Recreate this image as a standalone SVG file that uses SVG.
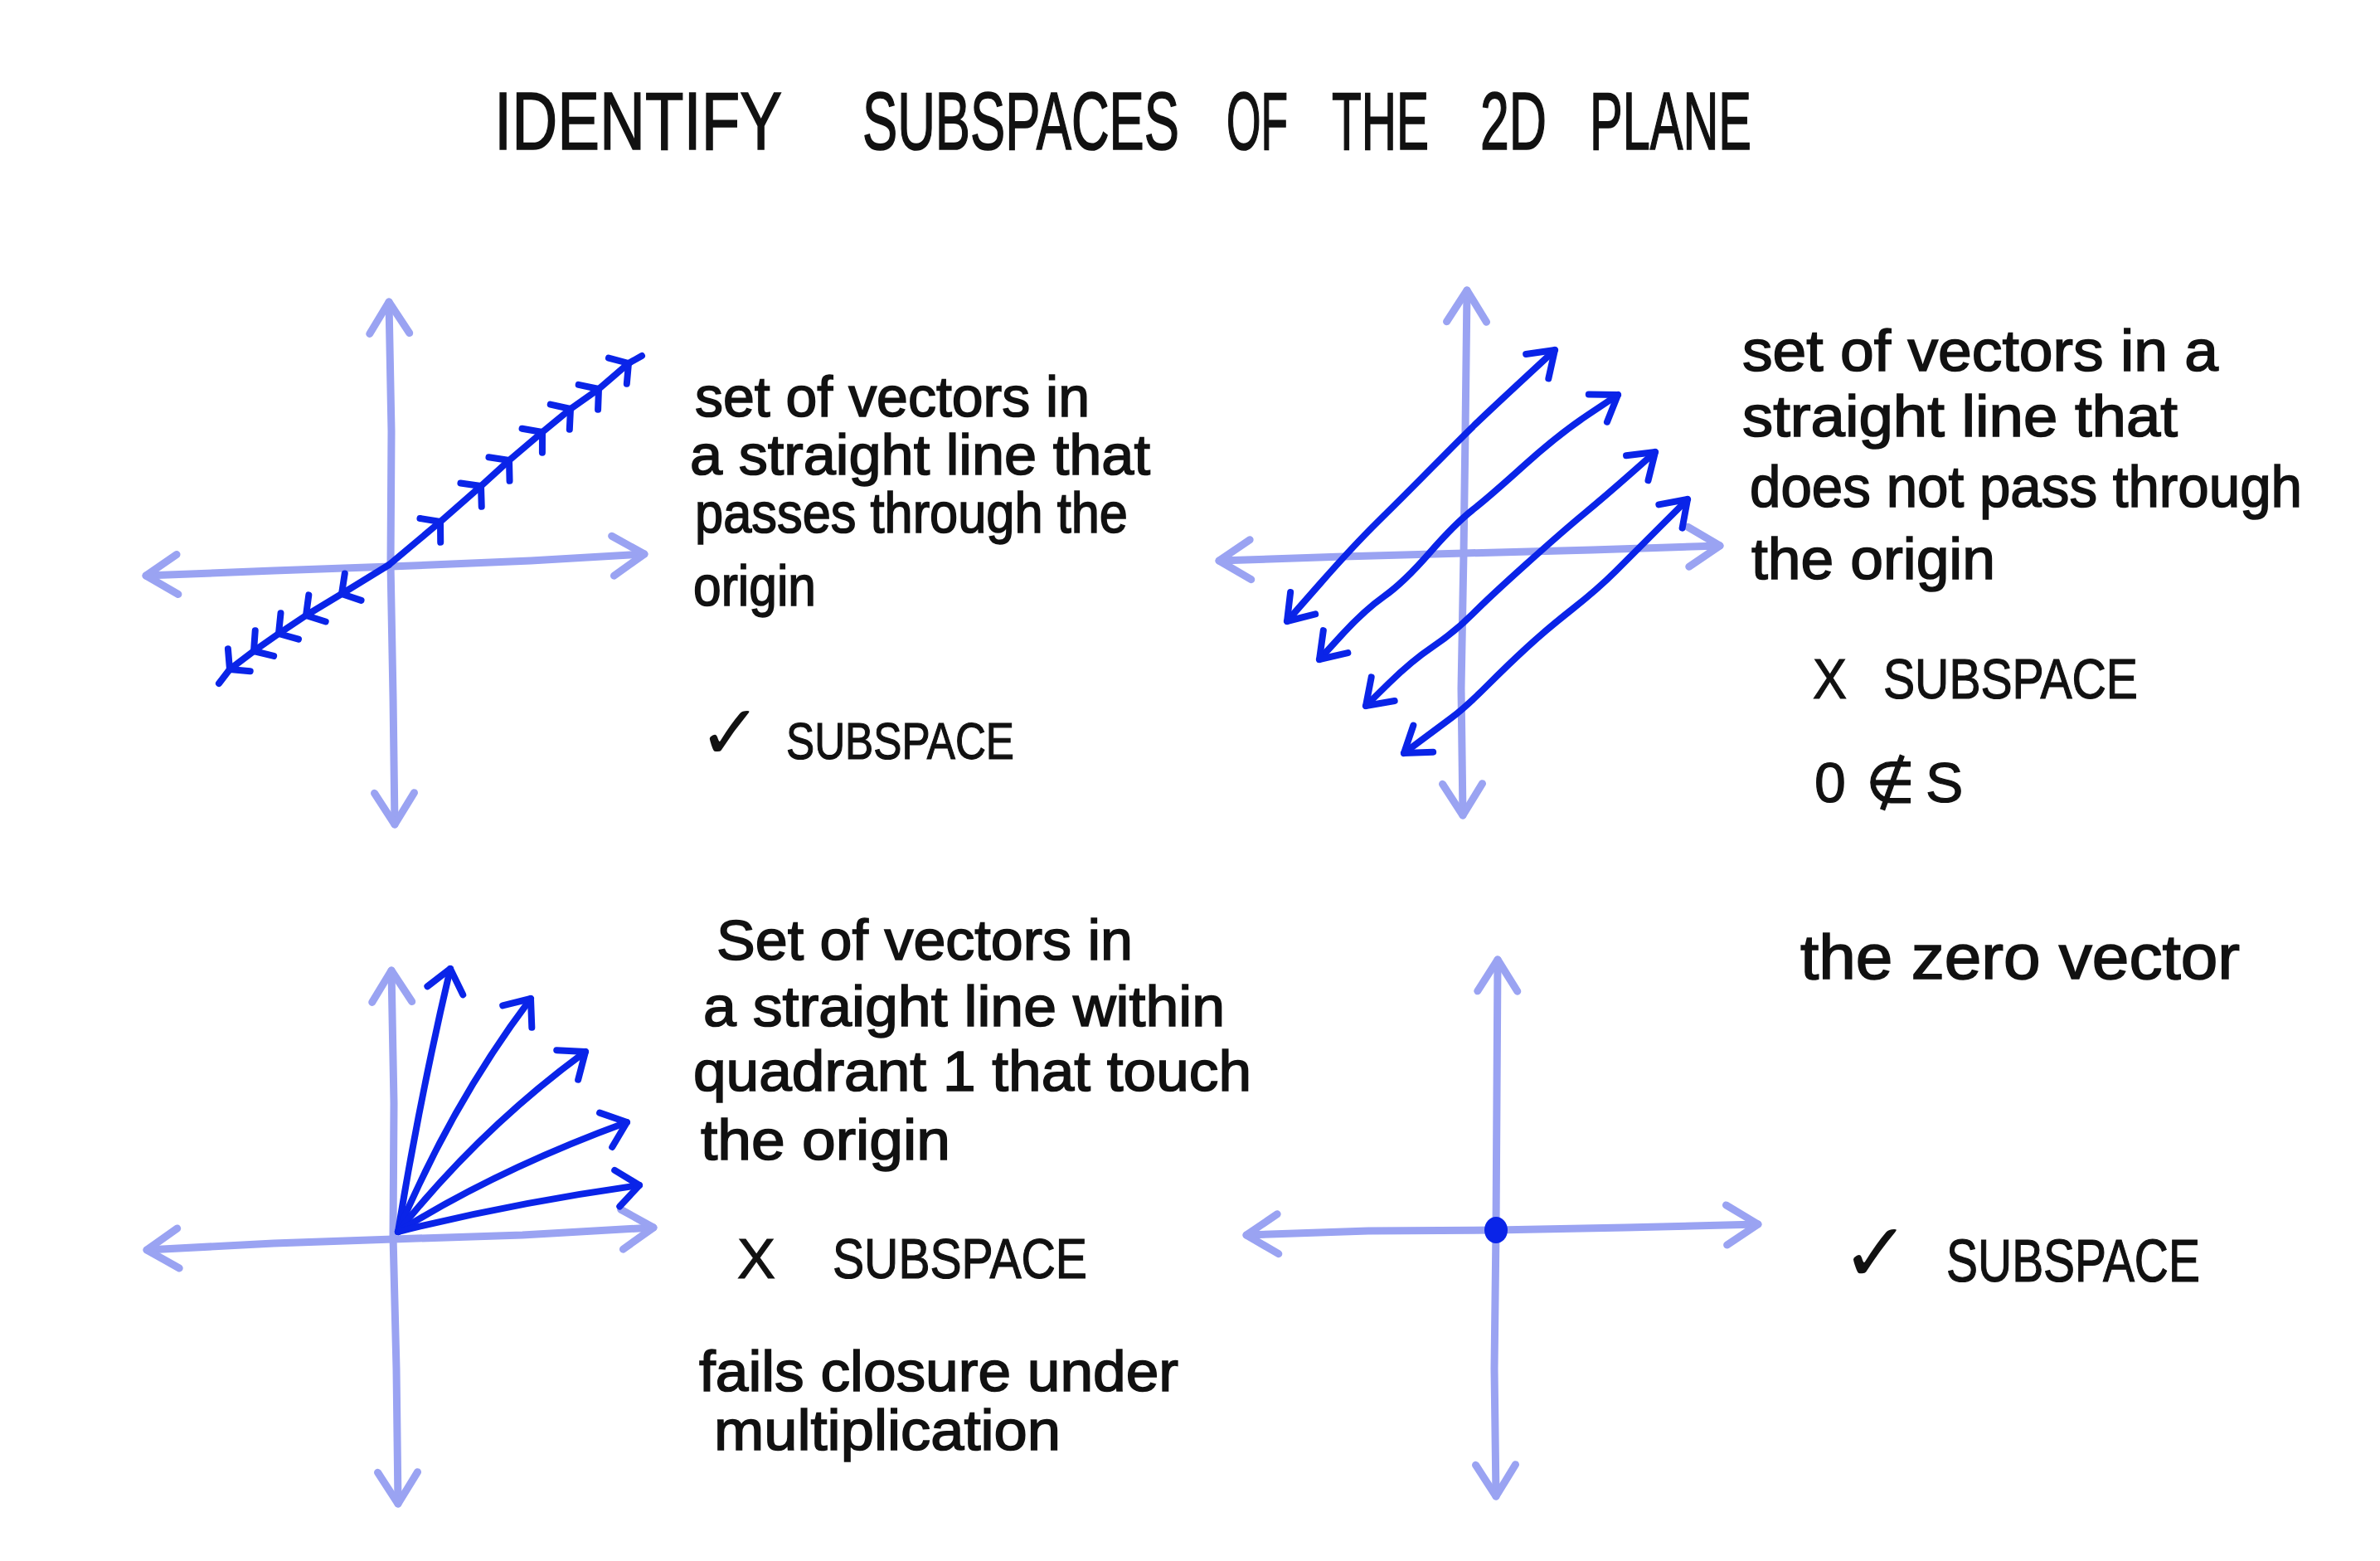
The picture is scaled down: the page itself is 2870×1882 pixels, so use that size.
<svg xmlns="http://www.w3.org/2000/svg" width="2870" height="1882" viewBox="0 0 2870 1882">
<style>
.ax{fill:none;stroke:#9AA3F2;stroke-width:9;stroke-linecap:round;stroke-linejoin:round}
.vb{fill:none;stroke:#0A24E8;stroke-width:8;stroke-linecap:round;stroke-linejoin:round}
.t{font-family:"Liberation Sans","DejaVu Sans",sans-serif;fill:#111;stroke:#111;stroke-width:1.6}
.cap{font-family:"Liberation Sans","DejaVu Sans",sans-serif;fill:#111;stroke:#111;stroke-width:1.2}
.sym{font-family:"DejaVu Sans","Liberation Sans",sans-serif;fill:#111}
</style>
<defs>
<marker id="axh" markerUnits="userSpaceOnUse" orient="auto-start-reverse" markerWidth="1" markerHeight="1" refX="0" refY="0" style="overflow:visible">
<path d="M-38,-24 L0,0 L-38,24" fill="none" stroke="#9AA3F2" stroke-width="9" stroke-linecap="round" stroke-linejoin="round"/>
</marker>
<marker id="sm" markerUnits="userSpaceOnUse" orient="auto" markerWidth="1" markerHeight="1" refX="0" refY="0" style="overflow:visible">
<path d="M-16,-19 L0,0 L-16,19" fill="none" stroke="#0A24E8" stroke-width="8" stroke-linecap="round" stroke-linejoin="round"/>
</marker>
<marker id="bh" markerUnits="userSpaceOnUse" orient="auto-start-reverse" markerWidth="1" markerHeight="1" refX="0" refY="0" style="overflow:visible">
<path d="M-29,-20 L0,0 L-29,20" fill="none" stroke="#0A24E8" stroke-width="8" stroke-linecap="round" stroke-linejoin="round"/>
</marker>
<marker id="vh" markerUnits="userSpaceOnUse" orient="auto" markerWidth="1" markerHeight="1" refX="0" refY="0" style="overflow:visible">
<path d="M-27,-22 L0,0 L-27,22" fill="none" stroke="#0A24E8" stroke-width="8" stroke-linecap="round" stroke-linejoin="round"/>
</marker>
</defs>
<rect width="2870" height="1882" fill="#ffffff"/>

<g id="title">
<text class="cap" y="180" font-size="70" transform="translate(0,180) scale(1,1.4) translate(0,-180)"><tspan x="596" textLength="347" lengthAdjust="spacingAndGlyphs">IDENTIFY</tspan><tspan x="1040" textLength="382" lengthAdjust="spacingAndGlyphs">SUBSPACES</tspan><tspan x="1479" textLength="74" lengthAdjust="spacingAndGlyphs">OF</tspan><tspan x="1606" textLength="117" lengthAdjust="spacingAndGlyphs">THE</tspan><tspan x="1785" textLength="80" lengthAdjust="spacingAndGlyphs">2D</tspan><tspan x="1917" textLength="195" lengthAdjust="spacingAndGlyphs">PLANE</tspan></text>
</g>

<g id="panel-tl">
<path class="ax" d="M469,364 L472,520 L471,680 L474,840 L476,994" marker-start="url(#axh)" marker-end="url(#axh)"/>
<path class="ax" d="M176,694 L330,688 L471,683 L640,676 L777,668" marker-start="url(#axh)" marker-end="url(#axh)"/>
<polyline class="vb" points="469,681 531,629 580,586 614,555 654,521 688,493 722,469 758,438 774,429" marker-mid="url(#sm)"/>
<polyline class="vb" points="469,681 412,716 369,742 336,764 306,785 277,807 264,824" marker-mid="url(#sm)"/>
<text class="t" font-size="68" x="838" y="502" textLength="476" lengthAdjust="spacingAndGlyphs">set of vectors in</text>
<text class="t" font-size="68" x="832" y="572" textLength="555" lengthAdjust="spacingAndGlyphs">a straight line that</text>
<text class="t" font-size="68" x="838" y="642" textLength="522" lengthAdjust="spacingAndGlyphs">passes through the</text>
<text class="t" font-size="68" x="836" y="730" textLength="148" lengthAdjust="spacingAndGlyphs">origin</text>
<text y="915"><tspan class="sym" x="842" font-size="92">✓</tspan><tspan class="cap" x="948" font-size="63" textLength="275" lengthAdjust="spacingAndGlyphs">SUBSPACE</tspan></text>
</g>

<g id="panel-tr">
<path class="ax" d="M1769,350 L1767,520 L1765,667 L1762,830 L1764,983" marker-start="url(#axh)" marker-end="url(#axh)"/>
<path class="ax" d="M1470,676 L1620,671 L1765,667 L1920,663 L2074,658" marker-start="url(#axh)" marker-end="url(#axh)"/>
<path class="vb" d="M1552,749 L1592,703.5 Q1632,658 1662.5,628 Q1693,598 1727.5,563 Q1762,528 1777.5,513 Q1793,498 1834,460 L1875,422" marker-start="url(#bh)" marker-end="url(#bh)"/>
<path class="vb" d="M1591,795 L1618,765.5 Q1645,736 1669,719 Q1693,702 1723.5,667 Q1754,632 1775.5,615 Q1797,598 1838,561 Q1879,524 1915,500 L1951,476" marker-start="url(#bh)" marker-end="url(#bh)"/>
<path class="vb" d="M1647,851 L1674.5,824 Q1702,797 1728,779.5 Q1754,762 1775.5,740.5 Q1797,719 1840.5,680 Q1884,641 1910,619.5 Q1936,598 1966,571.5 L1996,545" marker-start="url(#bh)" marker-end="url(#bh)"/>
<path class="vb" d="M1693,908 L1712.5,893.5 Q1732,879 1749.5,866 Q1767,853 1793,827 Q1819,801 1842.5,779.5 Q1866,758 1896.5,734 Q1927,710 1948.5,688.5 Q1970,667 2002.5,634.5 L2035,602" marker-start="url(#bh)" marker-end="url(#bh)"/>
<text class="t" font-size="70" x="2101" y="447" textLength="574" lengthAdjust="spacingAndGlyphs">set of vectors in a</text>
<text class="t" font-size="70" x="2101" y="526" textLength="525" lengthAdjust="spacingAndGlyphs">straight line that</text>
<text class="t" font-size="70" x="2110" y="611" textLength="666" lengthAdjust="spacingAndGlyphs">does not pass through</text>
<text class="t" font-size="70" x="2112" y="698" textLength="294" lengthAdjust="spacingAndGlyphs">the origin</text>
<text class="cap" font-size="68" y="842"><tspan x="2186" textLength="41" lengthAdjust="spacingAndGlyphs">X</tspan><tspan x="2271" textLength="307" lengthAdjust="spacingAndGlyphs">SUBSPACE</tspan></text>
<text class="cap" font-size="68" y="967"><tspan x="2188">0</tspan><tspan class="sym" x="2250">∉</tspan><tspan x="2322">S</tspan></text>
</g>

<g id="panel-bl">
<path class="ax" d="M472,1170 L475,1330 L474,1490 L478,1650 L480,1813" marker-start="url(#axh)" marker-end="url(#axh)"/>
<path class="ax" d="M177,1507 L330,1499 L474,1494 L630,1489 L788,1480" marker-start="url(#axh)" marker-end="url(#axh)"/>
<path class="vb" d="M480,1485 Q505,1330 543,1168" marker-end="url(#vh)"/>
<path class="vb" d="M480,1485 Q545,1330 640,1204" marker-end="url(#vh)"/>
<path class="vb" d="M480,1485 Q580,1360 706,1268" marker-end="url(#vh)"/>
<path class="vb" d="M480,1485 Q600,1410 756,1353" marker-end="url(#vh)"/>
<path class="vb" d="M480,1485 Q620,1450 771,1429" marker-end="url(#vh)"/>
<text class="t" font-size="68" x="864" y="1157" textLength="502" lengthAdjust="spacingAndGlyphs">Set of vectors in</text>
<text class="t" font-size="68" x="848" y="1237" textLength="629" lengthAdjust="spacingAndGlyphs">a straight line within</text>
<text class="t" font-size="68" x="836" y="1315" textLength="673" lengthAdjust="spacingAndGlyphs">quadrant 1 that touch</text>
<text class="t" font-size="68" x="845" y="1398" textLength="301" lengthAdjust="spacingAndGlyphs">the origin</text>
<text class="cap" font-size="68" y="1541"><tspan x="889" textLength="46" lengthAdjust="spacingAndGlyphs">X</tspan><tspan x="1004" textLength="307" lengthAdjust="spacingAndGlyphs">SUBSPACE</tspan></text>
<text class="t" font-size="68" x="843" y="1677" textLength="578" lengthAdjust="spacingAndGlyphs">fails closure under</text>
<text class="t" font-size="68" x="861" y="1748" textLength="418" lengthAdjust="spacingAndGlyphs">multiplication</text>
</g>

<g id="panel-br">
<path class="ax" d="M1806,1157 L1805,1320 L1804,1483 L1802,1650 L1804,1804" marker-start="url(#axh)" marker-end="url(#axh)"/>
<path class="ax" d="M1503,1489 L1650,1484 L1804,1483 L1960,1480 L2120,1476" marker-start="url(#axh)" marker-end="url(#axh)"/>
<ellipse cx="1804" cy="1483" rx="14" ry="16" fill="#0A24E8"/>
<text class="t" font-size="76" x="2171" y="1180" textLength="530" lengthAdjust="spacingAndGlyphs">the zero vector</text>
<text y="1545"><tspan class="sym" x="2220" font-size="100">✓</tspan><tspan class="cap" x="2347" font-size="72" textLength="306" lengthAdjust="spacingAndGlyphs">SUBSPACE</tspan></text>
</g>
</svg>
